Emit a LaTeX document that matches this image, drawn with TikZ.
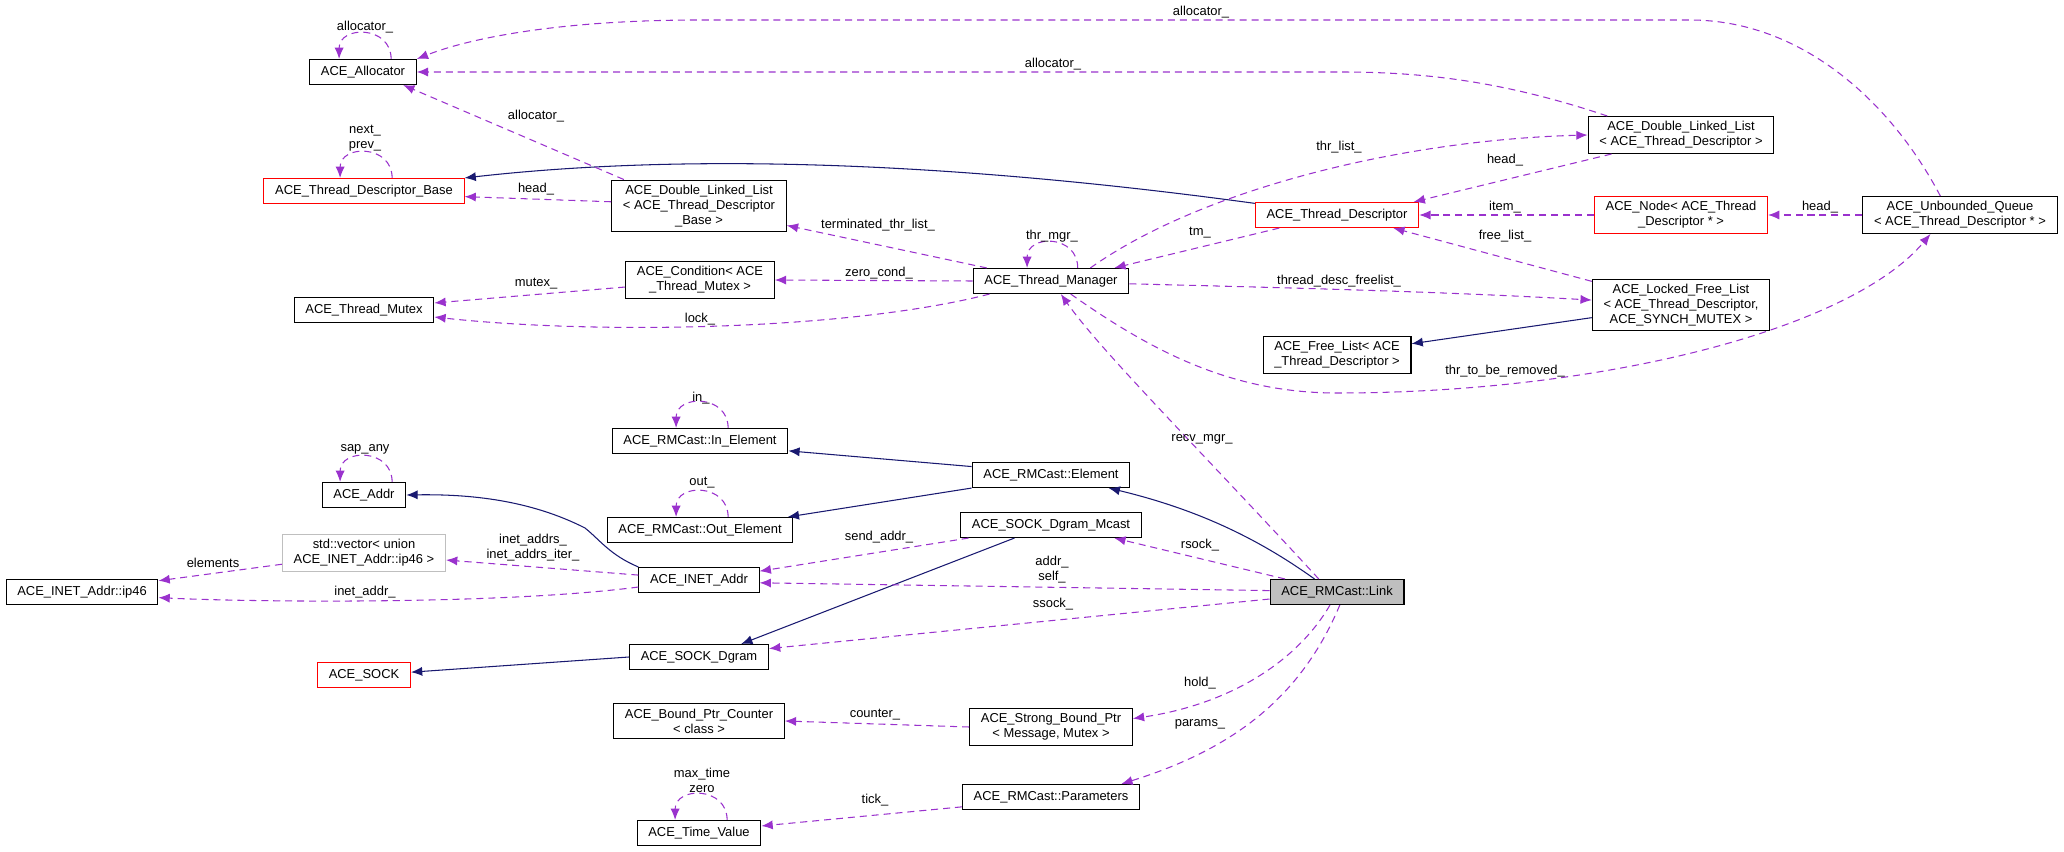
\documentclass[tikz,border=0pt]{standalone}
\usepackage{fontspec}
\setmainfont{Liberation Sans}
\usetikzlibrary{arrows.meta}
\definecolor{usecol}{HTML}{9A32CD}
\definecolor{inhcol}{HTML}{191970}
\definecolor{redframe}{HTML}{FF0000}
\definecolor{greyframe}{HTML}{BFBFBF}

\begin{document}
\begin{tikzpicture}[x=0.025cm, y=-0.025cm,
  every node/.style={font=\fontsize{9.2}{10.7}\selectfont},
  cls/.style={draw=black, fill=white, line width=0.75pt, inner xsep=8pt, inner ysep=3.5pt, minimum height=17.8pt, align=center},
  redcls/.style={cls, draw=redframe},
  greycls/.style={cls, draw=greyframe},
  focus/.style={cls, fill=greyframe},
  lbl/.style={inner sep=0pt, align=center},
  use/.style={draw=usecol, dash pattern=on 5pt off 3.5pt, line width=0.75pt, -{Latex[length=8pt,width=6.5pt]}},
  inh/.style={draw=inhcol, line width=0.75pt, -{Latex[length=8pt,width=6.5pt]}}]
\useasboundingbox (0,0) rectangle (2064,852);

% classes
\node[cls] (alloc) at (363,72) {ACE\_Allocator};
\node[redcls] (tdb) at (364,191) {ACE\_Thread\_Descriptor\_Base};
\node[cls] (tmutex) at (364,310) {ACE\_Thread\_Mutex};
\node[cls] (dllb) at (699,206) {ACE\_Double\_Linked\_List\\< ACE\_Thread\_Descriptor\\\_Base >};
\node[cls] (cond) at (700,280) {ACE\_Condition< ACE\\\_Thread\_Mutex >};
\node[cls] (tman) at (1051,281) {ACE\_Thread\_Manager};
\node[redcls] (td) at (1337,215) {ACE\_Thread\_Descriptor};
\node[cls] (dlltd) at (1681,135) {ACE\_Double\_Linked\_List\\< ACE\_Thread\_Descriptor >};
\node[redcls] (tnode) at (1681,215) {ACE\_Node< ACE\_Thread\\\_Descriptor * >};
\node[cls] (uq) at (1960,215) {ACE\_Unbounded\_Queue\\< ACE\_Thread\_Descriptor * >};
\node[cls] (lfl) at (1681,305) {ACE\_Locked\_Free\_List\\< ACE\_Thread\_Descriptor,\\ACE\_SYNCH\_MUTEX >};
\node[cls] (fl) at (1337,355) {ACE\_Free\_List< ACE\\\_Thread\_Descriptor >};

\node[cls] (inel) at (700,441) {ACE\_RMCast::In\_Element};
\node[cls] (outel) at (700,530) {ACE\_RMCast::Out\_Element};
\node[cls] (elem) at (1051,475) {ACE\_RMCast::Element};
\node[cls] (mcast) at (1051,525) {ACE\_SOCK\_Dgram\_Mcast};
\node[cls] (addr) at (364,495) {ACE\_Addr};
\node[greycls] (vec) at (364,553) {std::vector< union\\ ACE\_INET\_Addr::ip46 >};
\node[cls] (ip46) at (82,592) {ACE\_INET\_Addr::ip46};
\node[cls] (inet) at (699,580) {ACE\_INET\_Addr};
\node[focus] (link) at (1337,592) {ACE\_RMCast::Link};
\node[redcls] (sock) at (364,675) {ACE\_SOCK};
\node[cls] (dgram) at (699,657) {ACE\_SOCK\_Dgram};
\node[cls] (bpc) at (699,721) {ACE\_Bound\_Ptr\_Counter\\< class >};
\node[cls] (sbp) at (1051,727) {ACE\_Strong\_Bound\_Ptr\\< Message, Mutex >};
\node[cls] (params) at (1051,797) {ACE\_RMCast::Parameters};
\node[cls] (tval) at (699,833) {ACE\_Time\_Value};

% inheritance
\draw[inh] ([yshift=-1pt]td.north west) .. controls (900,155) and (650,157) .. (tdb.north east);
\draw[inh] ([yshift=-9pt]lfl.west) -- ([yshift=8pt]fl.east);
\draw[inh] ([yshift=6pt]elem.west) -- ([yshift=-7pt]inel.east);
\draw[inh] (elem.south west) -- ([xshift=-4pt]outel.north east);
\draw[inh] ([xshift=-16pt]link.north) .. controls (1260,540) and (1200,510) .. ([xshift=41pt]elem.south);
\draw[inh] (inet.north west) .. controls (610,555) and (600,540) .. (585,528) .. controls (530,500) and (470,494) .. (addr.east);
\draw[inh] ([xshift=-26pt]mcast.south) -- ([xshift=30pt]dgram.north);
\draw[inh] (dgram.west) -- ([yshift=2pt]sock.east);

% self loops
\draw[use] ([xshift=20pt]alloc.north) .. controls +(0,24pt) and +(0,24pt) .. ([xshift=-17pt]alloc.north);
\draw[use] ([xshift=20pt]tdb.north) .. controls +(0,24pt) and +(0,24pt) .. ([xshift=-17pt]tdb.north);
\draw[use] ([xshift=19pt]tman.north) .. controls +(0,24pt) and +(0,24pt) .. ([xshift=-17pt]tman.north);
\draw[use] ([xshift=20pt]inel.north) .. controls +(0,24pt) and +(0,24pt) .. ([xshift=-17pt]inel.north);
\draw[use] ([xshift=20pt]outel.north) .. controls +(0,24pt) and +(0,24pt) .. ([xshift=-17pt]outel.north);
\draw[use] ([xshift=20pt]addr.north) .. controls +(0,24pt) and +(0,24pt) .. ([xshift=-17pt]addr.north);
\draw[use] ([xshift=20pt]tval.north) .. controls +(0,24pt) and +(0,24pt) .. ([xshift=-17pt]tval.north);

% members
\draw[use] ([xshift=-14pt]uq.north) .. controls (1890,100) and (1800,20) .. (1690,20) -- (700,20) .. controls (560,20) and (470,38) .. (alloc.north east);
\draw[use] ([xshift=14pt]dlltd.north west) .. controls (1500,80) and (1420,72) .. (1340,72) -- (alloc.east);
\draw[use] ([xshift=9pt]dllb.north west) -- (alloc.-18);
\draw[use] ([yshift=3pt]dllb.west) -- ([yshift=-4pt]tdb.east);
\draw[use] ([xshift=10pt]tman.north west) -- ([yshift=5pt]dllb.south east);
\draw[use] ([xshift=28pt]tman.north) .. controls (1200,190) and (1400,140) .. (dlltd.west);
\draw[use] ([xshift=-41pt]td.south) -- ([xshift=45pt]tman.north);
\draw[use] ([xshift=17pt]dlltd.south west) -- ([xshift=-4pt]td.north east);
\draw[use] (tnode.west) -- (td.east);
\draw[use] (uq.west) -- (tnode.east);
\draw[use] ([yshift=-2pt]lfl.north west) -- ([xshift=40pt]td.south);
\draw[use] (tman.west) -- (cond.east);
\draw[use] ([yshift=-5pt]cond.west) -- ([yshift=5pt]tmutex.east);
\draw[use] ([xshift=12pt]tman.south west) .. controls (850,330) and (600,335) .. ([yshift=-5pt]tmutex.east);
\draw[use] ([yshift=-2pt]tman.east) .. controls (1300,288) and (1450,292) .. ([yshift=3.5pt]lfl.west);
\draw[use] ([xshift=14pt]tman.south) .. controls (1150,350) and (1230,393) .. (1337,393) .. controls (1600,393) and (1850,330) .. ([xshift=-21pt]uq.south);
\draw[use] ([xshift=-13pt]link.north) .. controls (1200,450) and (1100,350) .. ([xshift=7pt]tman.south);

\draw[use] ([yshift=3.5pt]inet.west) -- ([yshift=-5pt]vec.east);
\draw[use] ([yshift=-8pt]vec.west) -- ([yshift=8pt]ip46.east);
\draw[use] ([yshift=-5pt]inet.west) .. controls (500,605) and (250,602) .. ([yshift=-4pt]ip46.east);
\draw[use] ([xshift=6pt]mcast.south west) -- ([yshift=-3pt]inet.north east);
\draw[use] ([xshift=11pt]link.north west) -- ([xshift=45pt]mcast.south);
\draw[use] ([yshift=1pt]link.west) -- ([yshift=-2pt]inet.east);
\draw[use] ([yshift=-5pt]link.west) -- ([yshift=6pt]dgram.east);
\draw[use] ([xshift=-5pt]link.south) .. controls (1295,665) and (1225,705) .. ([yshift=6pt]sbp.east);
\draw[use] ([xshift=2pt]link.south) .. controls (1300,700) and (1230,750) .. ([xshift=50pt]params.north);
\draw[use] (sbp.west) -- (bpc.east);
\draw[use] ([yshift=-7pt]params.west) -- ([yshift=5pt]tval.east);

% labels
\node[lbl] (lAllocSelf) at (365,27) {allocator\_};
\node[lbl] (lAllocUq) at (1201,12) {allocator\_};
\node[lbl] (lAllocTd) at (1053,64) {allocator\_};
\node[lbl] (lAllocB) at (536,116) {allocator\_};
\node[lbl] (lNext) at (365,138) {next\_\\prev\_};
\node[lbl] (lHeadB) at (536,189) {head\_};
\node[lbl] (lTerm) at (878,225) {terminated\_thr\_list\_};
\node[lbl] (lMgr) at (1052,236) {thr\_mgr\_};
\node[lbl] (lList) at (1339,147) {thr\_list\_};
\node[lbl] (lTm) at (1200,233) {tm\_};
\node[lbl] (lHeadTd) at (1505,160) {head\_};
\node[lbl] (lItem) at (1505,207) {item\_};
\node[lbl] (lHeadUq) at (1820,207) {head\_};
\node[lbl] (lFree) at (1505,236) {free\_list\_};
\node[lbl] (lZero) at (879,273) {zero\_cond\_};
\node[lbl] (lMutex) at (536,284) {mutex\_};
\node[lbl] (lLock) at (700,319) {lock\_};
\node[lbl] (lDesc) at (1339,281) {thread\_desc\_freelist\_};
\node[lbl] (lRemove) at (1505,371) {thr\_to\_be\_removed\_};
\node[lbl] (lRecv) at (1202,439) {recv\_mgr\_};
\node[lbl] (lIn) at (701,398) {in\_};
\node[lbl] (lOut) at (702,483) {out\_};
\node[lbl] (lSap) at (365,449) {sap\_any};
\node[lbl] (lAddrs) at (533,548) {inet\_addrs\_\\inet\_addrs\_iter\_};
\node[lbl] (lElem) at (213,563) {elements};
\node[lbl] (lInet) at (365,592) {inet\_addr\_};
\node[lbl] (lSend) at (879,537) {send\_addr\_};
\node[lbl] (lRsock) at (1200,545) {rsock\_};
\node[lbl] (lSelf) at (1052,570) {addr\_\\self\_};
\node[lbl] (lSsock) at (1053,604) {ssock\_};
\node[lbl] (lHold) at (1200,683) {hold\_};
\node[lbl] (lCounter) at (875,715) {counter\_};
\node[lbl] (lParams) at (1200,724) {params\_};
\node[lbl] (lMax) at (702,780) {max\_time\\zero};
\node[lbl] (lTick) at (875,800) {tick\_};
\end{tikzpicture}
\end{document}
